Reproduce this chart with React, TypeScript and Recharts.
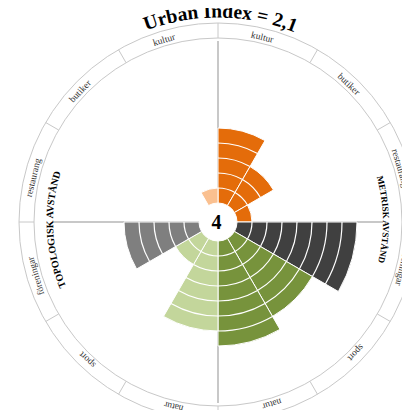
import React from 'react';
import {
  RadialBarChart,
  RadialBar,
  PolarAngleAxis,
  PolarRadiusAxis,
  Cell,
  Customized,
} from 'recharts';

// ---------- data ----------
const categories = [
  'kultur', 'butiker', 'restaurang', 'föreningar', 'sport', 'natur',
  'natur', 'sport', 'föreningar', 'restaurang', 'butiker', 'kultur',
];
const metriskValues = [5, 3, 1, 8, 6, 7];
const topologiskValues = [6, 2, 5, 0, 0, 1];
const barColors = [
  '#E46C0A', '#E46C0A', '#E46C0A', '#404040', '#77933C', '#77933C',
  '#C3D69B', '#C3D69B', '#7F7F7F', '#FAC090', '#FAC090', '#FAC090',
];
const radiusDomain = [0, 12];
const titleText = 'Urban Index = 2,1';
const centerText = '4';
const metriskTitle = 'METRISK AVSTÅND';
const topologiskTitle = 'TOPOLOGISK AVSTÅND';

const data = categories.map((name, i) => ({
  id: `${i < 6 ? 'm' : 't'}-${name}`,
  name,
  value: i < 6 ? metriskValues[i] : topologiskValues[i - 6],
}));

// ---------- geometry / style ----------
const W = 410;
const H = 418;
const CX = 218;
const CY = 222;
const R0 = 19;
const R1 = 199;
const RING_IN = 184;
const LABEL_R = 190;
const LABEL_SHIFT = 1.5;
const HALF = 180 / categories.length;
const SERIF = "'Liberation Serif', 'Times New Roman', serif";
const LINE = '#c8c8c8';

const pt = (r: number, a: number): [number, number] => {
  const rad = (-a * Math.PI) / 180;
  return [CX + r * Math.cos(rad), CY + r * Math.sin(rad)];
};

const UnitSector = (props: any) => {
  const { cx, cy, innerRadius, outerRadius, startAngle, endAngle, fill } = props;
  const value = typeof props.value === 'number' ? props.value : props.payload?.value;
  if (!value || outerRadius - innerRadius < 0.5) return null;
  const p = (r: number, a: number) => {
    const rad = (-a * Math.PI) / 180;
    return [cx + r * Math.cos(rad), cy + r * Math.sin(rad)];
  };
  const sweep = startAngle > endAngle ? 1 : 0;
  const os = p(outerRadius, startAngle);
  const oe = p(outerRadius, endAngle);
  const ie = p(innerRadius, endAngle);
  const is = p(innerRadius, startAngle);
  const d = `M${os[0]},${os[1]} A${outerRadius},${outerRadius} 0 0 ${sweep} ${oe[0]},${oe[1]} L${ie[0]},${ie[1]} A${innerRadius},${innerRadius} 0 0 ${1 - sweep} ${is[0]},${is[1]} Z`;
  const step = (outerRadius - innerRadius) / value;
  const arcs = [];
  for (let k = 1; k < value; k++) {
    const r = innerRadius + k * step;
    const a1 = p(r, startAngle);
    const a2 = p(r, endAngle);
    arcs.push(
      <path
        key={k}
        d={`M${a1[0]},${a1[1]} A${r},${r} 0 0 ${sweep} ${a2[0]},${a2[1]}`}
        fill="none"
        stroke="#fff"
        strokeWidth={1.2}
      />
    );
  }
  return (
    <g>
      <path d={d} fill={fill} stroke="#fff" strokeWidth={1} />
      {arcs}
    </g>
  );
};

const RingTick = (props: any) => {
  const { payload, index } = props;
  const mid = payload.coordinate + HALF;
  const a = mid + LABEL_SHIFT;
  const clock = 90 - a;
  const [x, y] = pt(LABEL_R, a);
  const [x1, y1] = pt(RING_IN, mid + HALF);
  const [x2, y2] = pt(R1, mid + HALF);
  return (
    <g>
      <line x1={x1} y1={y1} x2={x2} y2={y2} stroke={LINE} strokeWidth={1} />
      <text
        x={x}
        y={y}
        transform={`rotate(${clock} ${x} ${y})`}
        textAnchor="middle"
        dominantBaseline="central"
        fontSize={9.5}
        fill="#333"
        fontFamily={SERIF}
      >
        {categories[index]}
      </text>
    </g>
  );
};

const AxisCross = () => (
  <g>
    <line x1={CX - 165} y1={CY} x2={CX + 165} y2={CY} stroke={LINE} strokeWidth={2} />
    <line x1={CX} y1={CY - 181} x2={CX} y2={CY + 181} stroke={LINE} strokeWidth={2} />
  </g>
);

const Overlay = () => {
  const TR = 204.5;
  const SR = 165;
  return (
    <g>
      <defs>
        <path id="titleArc" d={`M${CX - TR},${CY} A${TR},${TR} 0 0 1 ${CX + TR},${CY}`} />
        <path id="rightArc" d={`M${CX},${CY - SR} A${SR},${SR} 0 0 1 ${CX},${CY + SR}`} />
        <path id="leftArc" d={`M${CX},${CY + SR} A${SR},${SR} 0 0 1 ${CX},${CY - SR}`} />
      </defs>
      <circle cx={CX} cy={CY} r={RING_IN} fill="none" stroke={LINE} strokeWidth={1} />
      <circle cx={CX} cy={CY} r={R0} fill="#fff" />
      <text
        x={CX - 1.5}
        y={CY}
        textAnchor="middle"
        dominantBaseline="central"
        fontSize={20}
        fontWeight="bold"
        fontFamily={SERIF}
        fill="#000"
      >
        {centerText}
      </text>
      <text fontSize={19.5} fontWeight="bold" fontFamily={SERIF} fill="#000">
        <textPath href="#titleArc" startOffset="50.4%" textAnchor="middle">
          {titleText}
        </textPath>
      </text>
      <text fontSize={9} fontWeight="bold" fontFamily={SERIF} fill="#000">
        <textPath href="#rightArc" startOffset="49.5%" textAnchor="middle">
          {metriskTitle}
        </textPath>
      </text>
      <text fontSize={10} fontWeight="bold" fontFamily={SERIF} fill="#000">
        <textPath href="#leftArc" startOffset="48.5%" textAnchor="middle">
          {topologiskTitle}
        </textPath>
      </text>
    </g>
  );
};

export default function App() {
  return (
    <div style={{ margin: -8, width: W, height: H, background: '#fff' }}>
      <RadialBarChart
        width={W}
        height={H}
        data={data}
        layout="centric"
        cx={CX}
        cy={CY}
        innerRadius={R0}
        outerRadius={R1}
        startAngle={90 - 2 * HALF}
        endAngle={-270 - 2 * HALF}
        barCategoryGap={0}
        barGap={0}
        margin={{ top: 0, right: 0, bottom: 0, left: 0 }}
      >
        <Customized component={<AxisCross />} />
        <PolarAngleAxis
          type="category"
          dataKey="id"
          axisLine={{ stroke: LINE, strokeWidth: 1 }}
          axisLineType="circle"
          tickLine={false}
          tick={<RingTick />}
        />
        <PolarRadiusAxis type="number" domain={radiusDomain} tick={false} axisLine={false} />
        <RadialBar dataKey="value" isAnimationActive={false} shape={<UnitSector />}>
          {data.map((d, i) => (
            <Cell key={d.id} fill={barColors[i]} />
          ))}
        </RadialBar>
        <Customized component={<Overlay />} />
      </RadialBarChart>
    </div>
  );
}
